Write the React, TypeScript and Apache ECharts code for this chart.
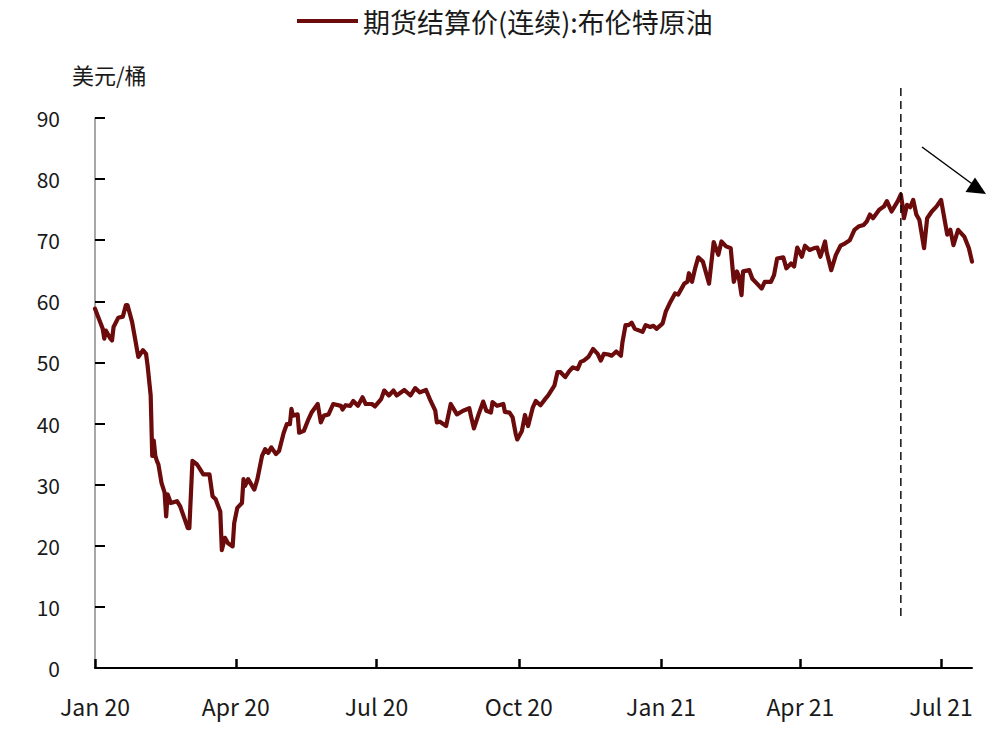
import React, { useEffect, useRef } from 'react';
import * as echarts from 'echarts';

const seriesName = '期货结算价(连续):布伦特原油';
const unitLabel = '美元/桶';
const monthNames = ['Jan', 'Feb', 'Mar', 'Apr', 'May', 'Jun', 'Jul', 'Aug', 'Sep', 'Oct', 'Nov', 'Dec'];
const axisStart = '2020-01-01';
const axisEnd = '2021-07-21';
const markerDate = '2021-06-05';
const yTicks = { min: 0, max: 90, interval: 10 };

const priceDates = [
  '2020-01-01', '2020-01-06', '2020-01-07', '2020-01-08', '2020-01-11', '2020-01-12', '2020-01-13', '2020-01-16',
  '2020-01-19', '2020-01-21', '2020-01-22', '2020-01-25', '2020-01-29', '2020-02-01', '2020-02-03', '2020-02-04',
  '2020-02-06', '2020-02-07', '2020-02-08', '2020-02-09', '2020-02-10', '2020-02-11', '2020-02-13', '2020-02-15',
  '2020-02-16', '2020-02-17', '2020-02-19', '2020-02-23', '2020-02-25', '2020-03-01', '2020-03-02', '2020-03-04',
  '2020-03-07', '2020-03-09', '2020-03-11', '2020-03-15', '2020-03-17', '2020-03-19', '2020-03-22', '2020-03-23',
  '2020-03-25', '2020-03-27', '2020-03-30', '2020-03-31', '2020-04-02', '2020-04-05', '2020-04-06', '2020-04-07',
  '2020-04-09', '2020-04-13', '2020-04-15', '2020-04-18', '2020-04-20', '2020-04-22', '2020-04-24', '2020-04-27',
  '2020-04-29', '2020-05-02', '2020-05-04', '2020-05-06', '2020-05-07', '2020-05-08', '2020-05-11', '2020-05-12',
  '2020-05-15', '2020-05-18', '2020-05-20', '2020-05-24', '2020-05-26', '2020-05-28', '2020-05-31', '2020-06-03',
  '2020-06-08', '2020-06-09', '2020-06-11', '2020-06-14', '2020-06-16', '2020-06-19', '2020-06-22', '2020-06-24',
  '2020-06-28', '2020-06-30', '2020-07-04', '2020-07-06', '2020-07-09', '2020-07-12', '2020-07-14', '2020-07-19',
  '2020-07-23', '2020-07-26', '2020-07-29', '2020-08-02', '2020-08-05', '2020-08-08', '2020-08-09', '2020-08-11',
  '2020-08-15', '2020-08-18', '2020-08-22', '2020-08-26', '2020-08-30', '2020-08-31', '2020-09-02', '2020-09-05',
  '2020-09-08', '2020-09-10', '2020-09-13', '2020-09-14', '2020-09-17', '2020-09-21', '2020-09-22', '2020-09-25',
  '2020-09-27', '2020-09-29', '2020-09-30', '2020-10-03', '2020-10-05', '2020-10-07', '2020-10-10', '2020-10-12',
  '2020-10-15', '2020-10-18', '2020-10-20', '2020-10-24', '2020-10-26', '2020-10-28', '2020-10-31', '2020-11-03',
  '2020-11-05', '2020-11-08', '2020-11-10', '2020-11-12', '2020-11-15', '2020-11-18', '2020-11-21', '2020-11-23',
  '2020-11-25', '2020-11-28', '2020-11-30', '2020-12-03', '2020-12-06', '2020-12-07', '2020-12-09', '2020-12-11',
  '2020-12-13', '2020-12-15', '2020-12-18', '2020-12-20', '2020-12-22', '2020-12-25', '2020-12-27', '2020-12-29',
  '2021-01-02', '2021-01-04', '2021-01-07', '2021-01-10', '2021-01-12', '2021-01-16', '2021-01-18', '2021-01-19',
  '2021-01-21', '2021-01-23', '2021-01-25', '2021-01-28', '2021-02-01', '2021-02-04', '2021-02-07', '2021-02-09',
  '2021-02-12', '2021-02-15', '2021-02-17', '2021-02-19', '2021-02-20', '2021-02-22', '2021-02-23', '2021-02-27',
  '2021-03-01', '2021-03-04', '2021-03-07', '2021-03-09', '2021-03-13', '2021-03-15', '2021-03-17', '2021-03-21',
  '2021-03-23', '2021-03-26', '2021-03-28', '2021-03-30', '2021-04-02', '2021-04-04', '2021-04-07', '2021-04-10',
  '2021-04-12', '2021-04-14', '2021-04-17', '2021-04-18', '2021-04-21', '2021-04-24', '2021-04-27', '2021-04-30',
  '2021-05-03', '2021-05-06', '2021-05-09', '2021-05-12', '2021-05-14', '2021-05-16', '2021-05-18', '2021-05-22',
  '2021-05-25', '2021-05-27', '2021-05-30', '2021-06-03', '2021-06-05', '2021-06-06', '2021-06-07', '2021-06-09',
  '2021-06-11', '2021-06-13', '2021-06-15', '2021-06-17', '2021-06-20', '2021-06-22', '2021-06-25', '2021-06-28',
  '2021-07-01', '2021-07-05', '2021-07-07', '2021-07-09', '2021-07-12', '2021-07-16', '2021-07-19', '2021-07-21',
];

const priceValues = [
  58.8, 55.5, 53.9, 55.2, 53.9, 53.6, 55.8, 57.3,
  57.5, 59.4, 59.4, 56.6, 50.9, 52.0, 51.4, 49.5,
  44.6, 34.7, 37.2, 34.7, 33.9, 33.3, 30.3, 28.7,
  24.8, 28.4, 27.0, 27.3, 26.5, 22.9, 22.9, 33.9,
  33.3, 32.5, 31.7, 31.7, 28.1, 27.6, 25.6, 19.3,
  21.3, 20.4, 19.9, 23.7, 26.2, 27.0, 30.9, 29.8,
  30.9, 29.2, 30.9, 34.7, 35.8, 35.2, 36.1, 35.0,
  35.5, 38.5, 39.9, 39.9, 42.4, 41.3, 41.5, 38.5,
  38.8, 40.7, 41.8, 43.2, 40.2, 41.3, 41.5, 43.2,
  42.9, 42.3, 43.0, 42.9, 43.7, 42.9, 44.3, 43.2,
  43.2, 42.8, 44.0, 45.4, 44.6, 45.4, 44.6, 45.5,
  44.6, 45.8, 45.1, 45.5, 43.7, 42.1, 40.2, 40.3,
  39.6, 43.2, 41.5, 42.1, 42.5, 41.3, 39.2, 41.5,
  43.6, 42.1, 41.8, 43.5, 42.9, 43.2, 41.9, 41.8,
  41.0, 38.3, 37.4, 38.8, 41.4, 39.6, 42.6, 43.7,
  43.0, 44.0, 44.6, 46.2, 48.4, 48.4, 47.6, 48.7,
  49.2, 48.9, 50.1, 50.3, 50.9, 52.2, 51.4, 50.3,
  51.4, 51.3, 51.1, 51.8, 51.1, 53.3, 56.1, 56.1,
  56.5, 55.5, 55.2, 55.0, 56.1, 55.8, 56.0, 55.5,
  56.4, 58.3, 59.9, 61.3, 61.1, 62.9, 63.2, 64.6,
  63.2, 65.4, 67.2, 66.5, 62.9, 69.7, 67.6, 69.8,
  69.0, 68.7, 63.2, 64.9, 64.3, 61.0, 64.9, 65.1,
  63.7, 62.9, 62.1, 63.2, 63.2, 64.3, 67.0, 67.2,
  65.4, 66.2, 65.7, 68.8, 67.3, 69.1, 68.4, 68.7,
  68.8, 67.3, 69.8, 68.1, 65.1, 67.6, 69.1, 69.5,
  70.0, 71.7, 72.3, 72.5, 73.1, 74.2, 73.6, 75.0,
  75.5, 76.4, 74.7, 76.4, 77.5, 75.8, 73.6, 75.8,
  75.4, 76.6, 74.2, 73.3, 68.7, 73.6, 74.7, 75.5,
  76.6, 70.9, 71.7, 69.2, 71.7, 70.6, 68.7, 66.5,
];

const FONT = '"Noto Sans CJK SC", "Noto Sans", sans-serif';
const LINE_COLOR = '#6b0b0b';
const TEXT_COLOR = '#1a1a1a';

function buildCategories(start: string, end: string): string[] {
  const out: string[] = [];
  const d = new Date(start + 'T00:00:00Z');
  const e = new Date(end + 'T00:00:00Z');
  while (d.getTime() <= e.getTime()) {
    out.push(d.toISOString().slice(0, 10));
    d.setUTCDate(d.getUTCDate() + 1);
  }
  return out;
}

function isQuarterStart(v: string): boolean {
  const parts = String(v).split('-');
  return parts[2] === '01' && ['01', '04', '07', '10'].indexOf(parts[1]) >= 0;
}

export default function App() {
  const ref = useRef<HTMLDivElement>(null);

  useEffect(() => {
    if (!ref.current) return;
    const chart = echarts.init(ref.current, undefined, { renderer: 'svg' });
    const categories = buildCategories(axisStart, axisEnd);
    const seriesData = priceDates.map((d, i) => [d, priceValues[i]]);

    chart.setOption({
      animation: false,
      backgroundColor: '#ffffff',
      textStyle: { fontFamily: FONT },
      legend: {
        show: true,
        top: 6,
        left: 297,
        padding: 0,
        icon: 'rect',
        itemWidth: 61,
        itemHeight: 4,
        textStyle: { fontFamily: FONT, fontSize: 27, color: TEXT_COLOR, lineHeight: 30 },
        data: [{ name: seriesName, itemStyle: { color: LINE_COLOR } }],
      },
      grid: { left: 95, right: 34, top: 118, bottom: 68, containLabel: false },
      xAxis: {
        type: 'category',
        data: categories,
        boundaryGap: false,
        axisLine: { show: true, lineStyle: { color: '#000', width: 2 } },
        axisTick: {
          show: true,
          inside: true,
          length: 9,
          interval: (_i: number, v: string) => isQuarterStart(v),
          lineStyle: { color: '#000', width: 2.5 },
        },
        axisLabel: {
          show: true,
          interval: (_i: number, v: string) => isQuarterStart(v),
          margin: 26,
          fontSize: 23,
          fontFamily: FONT,
          color: TEXT_COLOR,
          formatter: (v: string) => {
            const p = v.split('-');
            return monthNames[parseInt(p[1], 10) - 1] + ' ' + p[0].slice(2);
          },
        },
        splitLine: { show: false },
      },
      yAxis: {
        type: 'value',
        min: yTicks.min,
        max: yTicks.max,
        interval: yTicks.interval,
        axisLine: { show: true, lineStyle: { color: '#8a8a8a', width: 1.5 } },
        axisTick: { show: true, inside: true, length: 10, lineStyle: { color: '#000', width: 2 } },
        axisLabel: { margin: 35, fontSize: 21, fontFamily: FONT, color: TEXT_COLOR },
        splitLine: { show: false },
      },
      series: [
        {
          name: seriesName,
          type: 'line',
          data: seriesData,
          showSymbol: false,
          symbol: 'none',
          lineStyle: { color: LINE_COLOR, width: 4.2, join: 'round', cap: 'round' },
          itemStyle: { color: LINE_COLOR },
          z: 3,
        },
      ],
    });

    const idx = categories.indexOf(markerDate);
    const px = chart.convertToPixel({ xAxisIndex: 0 }, idx) as number;

    chart.setOption({
      graphic: [
        {
          type: 'text',
          left: 72,
          top: 63,
          style: { text: unitLabel, font: `22px ${FONT}`, fill: TEXT_COLOR },
        },
        {
          type: 'line',
          shape: { x1: px, y1: 88, x2: px, y2: 620 },
          style: { stroke: '#000', lineWidth: 1.4, lineDash: [8, 5] },
          z: 10,
        },
        {
          type: 'line',
          shape: { x1: 922, y1: 147, x2: 975, y2: 186 },
          style: { stroke: '#000', lineWidth: 1.5 },
          z: 10,
        },
        {
          type: 'polygon',
          shape: { points: [[986, 194], [975, 177.5], [965.5, 192]] },
          style: { fill: '#000' },
          z: 10,
        },
      ],
    });

    return () => chart.dispose();
  }, []);

  return (
    <div
      ref={ref}
      style={{ position: 'fixed', left: 0, top: 0, width: 1006, height: 736, background: '#fff' }}
    />
  );
}
